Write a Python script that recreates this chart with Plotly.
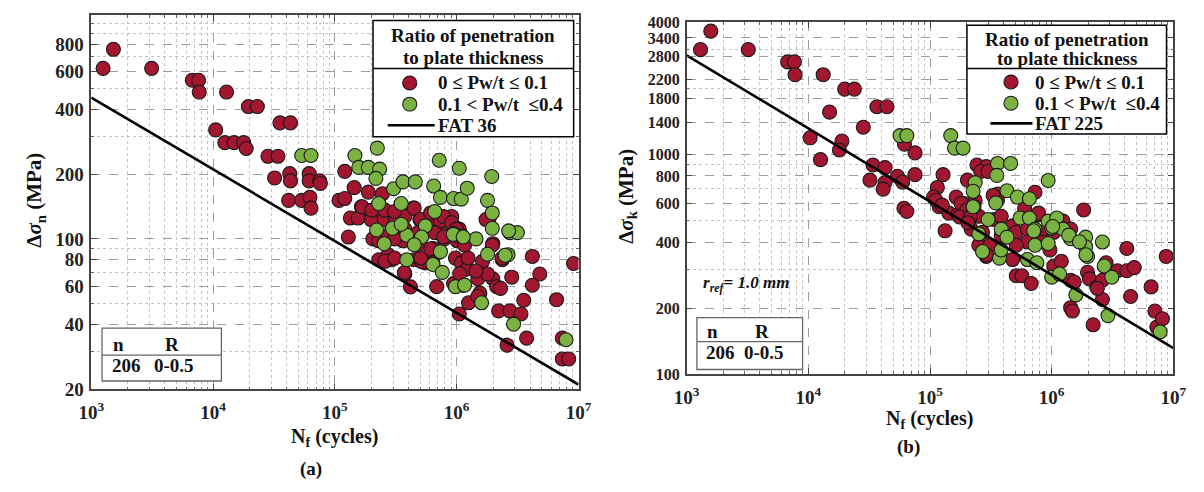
import math
import plotly.graph_objects as go

# ---------------- data ----------------
# panel (a): nominal stress range vs cycles
a_red_N = [1.25e3, 1.52e3, 3.13e3, 6.75e3, 7.6e3, 7.7e3, 1.29e4, 1.95e4, 2.31e4, 1.05e4,
           1.25e4, 1.49e4, 1.78e4, 1.87e4, 3.54e4, 4.32e4, 2.82e4, 3.41e4, 3.2e4, 4.26e4,
           4.32e4, 6.15e4, 6.15e4, 7.5e4, 7.6e4, 4.17e4, 5.34e4, 6.24e4, 6.37e4, 1.205e5,
           1.08e5, 1.205e5, 1.34e5, 1.29e5, 1.44e5, 1.88e5, 2.45e5, 1.65e5, 1.85e6, 1.98e6,
           3.37e5, 4.42e5, 2.73e5, 2.05e5, 1.72e5, 1.98e5, 1.55e5, 2.54e5, 2.93e5, 3.14e5,
           3.75e5, 4.98e5, 5.94e5, 7.35e5, 9.1e5, 9.42e5, 1.05e6, 7.62e5, 6.61e5, 4.81e5,
           3.75e5, 2.05e5, 2.29e5, 2.73e5, 3.62e5, 7.89e5, 1.01e6, 2.29e5, 2.93e5, 3.75e5,
           4.17e5, 5.53e5, 6.38e5, 6.85e5, 6.38e5, 9.77e5, 1.09e6, 1.21e6, 9.42e5, 1.12e6,
           1.25e6, 1.49e6, 1.55e6, 1.05e6, 1.98e6, 2.13e6, 2.29e6, 2.37e6, 2.83e6, 2.21e6,
           2.73e6, 3.37e6, 3.55e6, 4.18e6, 4.81e6, 4.18e6, 2.59e6, 3.75e6, 6.6e6, 7.36e6,
           7.36e6, 8.3e6, 9.1e6, 4.48e5, 5.15e5, 1.06e6, 1.49e6, 1.67e5, 2.01e5, 2.57e5,
           3.09e5, 4.48e5, 5.06e5, 6.1e5, 7.8e5, 9.08e5, 9.96e5, 1.16e6, 1.24e6, 1.63e6,
           1.79e6, 1.44e6, 1.96e6, 1.74e6, 2.36e6, 9.96e5, 2.73e5, 2.57e5, 3.09e5, 3.72e5,
           5.06e5, 6.1e5, 7.8e5, 4.75e5, 3.09e5]
a_red_S = [620, 760, 620, 546, 546, 481, 481, 412, 412, 321,
           280, 280, 280, 263, 346, 346, 242, 242, 192, 201,
           186, 201, 186, 186, 181, 151, 151, 156, 139, 206,
           151, 154, 125, 102, 173, 165, 162, 141, 125, 95,
           136, 139, 132, 132, 132, 123, 125, 123, 111, 123,
           127, 123, 119, 121, 127, 115, 111, 105, 107, 107,
           111, 100, 98, 102, 98, 100, 98, 80, 80, 68.7,
           59.9, 77.4, 77.4, 60, 90.3, 81.5, 77.4, 72.3, 62, 60.9,
           50.5, 65.3, 56, 44.8, 65.3, 60, 58.9, 80, 66.4, 46.3,
           46.3, 44.8, 51.9, 82.9, 68.7, 60.9, 32.1, 34.6, 52.2, 34.6,
           27.7, 27.7, 76.9, 80, 78.5, 69, 54, 141, 136, 136,
           134, 139, 123, 132, 127, 119, 104, 93.5, 81.5, 78.7,
           68.7, 71, 93.5, 123, 81.5, 111, 84.3, 78.7, 81.5, 69.8,
           81.5, 90, 102, 93.5, 100]
a_green_N = [5.34e4, 6.37e4, 1.46e5, 2.23e5, 1.57e5, 1.88e5, 2.33e5, 2.17e5, 7.19e5, 1.05e6,
             1.94e6, 3.03e5, 3.62e5, 4.57e5, 6.47e5, 7.35e5, 9.42e5, 1.09e6, 1.22e6, 1.79e6,
             1.96e6, 1.96e6, 2.73e6, 3.15e6, 2.29e5, 3.5e5, 6.61e5, 5.53e5, 2.2e5, 2.97e5,
             3.89e5, 5.15e5, 9.42e5, 1.11e6, 1.44e6, 2.54e5, 4.48e5, 3.89e5, 6.38e5, 7.35e5,
             7.62e5, 9.77e5, 1.6e6, 1.79e6, 2.64e6, 2.93e6, 7.9e6, 1.16e6, 3.5e5, 9.38e5,
             1.13e6, 2.5e6, 2.67e6]
a_green_S = [244, 244, 244, 264, 215, 215, 211, 191, 232, 213,
             195, 171, 184, 184, 176, 156, 154, 153, 172, 151,
             132, 112, 107, 107, 146, 146, 134, 115, 110, 112,
             104, 102, 106, 103, 100, 95, 94, 80, 76.1, 87.3,
             69.9, 60, 50.5, 84.9, 84.4, 40.2, 34, 61, 117, 105,
             102, 84, 109]

# panel (b): notch stress range vs cycles
b_red_N = [1.3e3, 1.58e3, 3.21e3, 6.76e3, 7.68e3, 7.78e3, 1.325e4, 1.99e4, 2.39e4, 1.495e4,
           3.66e4, 4.43e4, 2.83e4, 1.035e4, 1.89e4, 1.8e4, 1.26e4, 3.4e4, 4.27e4, 3.21e4,
           4.27e4, 4.12e4, 5.4e4, 5.96e4, 6.17e4, 7.53e4, 7.53e4, 6.1e4, 6.45e4, 1.28e5,
           1.15e5, 1.07e5, 1.19e5, 1.33e5, 1.43e5, 2.43e5, 2.9e5, 2.61e5, 3.0e5, 2.03e5,
           7.29e5, 1.83e6, 4.14e6, 1.64e5, 1.9e5, 1.7e5, 2.11e5, 2.35e5, 2.52e5, 2.18e5,
           2.7e5, 3.34e5, 3.59e5, 3.85e5, 4.77e5, 5.11e5, 6.32e5, 7.81e5, 8.09e5, 1.04e6,
           1.24e6, 1.43e6, 6.32e5, 5.11e5, 2.52e5, 2.9e5, 3.11e5, 4.77e5, 5.11e5, 5.69e5,
           6.79e5, 8.4e5, 9.68e5, 1.04e6, 1.2e6, 1.43e6, 1.53e6, 1.43e6, 1.48e6, 1.97e6,
           2.04e6, 2.35e6, 2.61e6, 2.61e6, 2.8e6, 3.47e6, 4.14e6, 4.77e6, 4.45e6, 2.19e6,
           6.56e6, 7.05e6, 7.31e6, 8.13e6, 8.73e6, 3.85e5, 3.61e5, 3.3e5, 5.99e5, 7.8e5,
           1.8e5, 2.0e5, 2.3e5, 1.75e5, 2.15e5, 2.05e5, 1.12e5, 1.26e5, 2.91e5, 2.37e6]
b_red_S = [3006, 3650, 3006, 2644, 2644, 2312, 2312, 1988, 1988, 1561,
           1652, 1652, 1333, 1193, 1153, 1050, 949, 897, 873, 766,
           746, 697, 797, 750, 1115, 1019, 811, 570, 551, 811,
           709, 641, 579, 450, 542, 897, 882, 838, 838, 766,
           674, 560, 374, 641, 599, 533, 542, 620, 524, 458,
           443, 507, 620, 524, 474, 443, 458, 533, 443, 443,
           498, 458, 400, 387, 387, 344, 387, 333, 281, 281,
           259, 400, 368, 311, 327, 268, 263, 201, 194, 291,
           272, 250, 219, 268, 322, 296, 296, 306, 226, 168,
           250, 194, 164, 179, 344, 429, 662, 652, 570, 542,
           600, 560, 580, 520, 520, 490, 620, 589, 350, 246]
b_green_N = [5.67e4, 6.45e4, 1.48e5, 1.59e5, 1.87e5, 3.59e5, 4.6e5, 3.54e5, 9.35e5, 2.35e5,
             2.26e5, 4.29e5, 5.23e5, 6.56e5, 3.47e5, 2.26e5, 3.0e5, 3.85e5, 5.5e5, 6.56e5,
             9.35e5, 1.1e6, 1.0e6, 1.24e6, 7.29e5, 4.29e5, 1.43e6, 1.9e6, 2.61e6, 2.52e5,
             7.29e5, 2.7e5, 3.72e5, 6.32e5, 7.55e5, 9.35e5, 1.0e6, 1.16e6, 1.58e6, 1.9e6,
             1.97e6, 2.7e6, 3.12e6, 2.9e6, 7.78e6, 1.38e6, 3.84e5, 1.69e6, 1.02e6, 7.12e5,
             1.91e6]
b_green_S = [1221, 1221, 1221, 1071, 1071, 912, 912, 805, 763, 746,
             681, 685, 641, 630, 603, 579, 507, 458, 515, 515,
             498, 515, 463, 458, 458, 421, 414, 421, 400, 436,
             387, 362, 338, 333, 322, 394, 277, 286, 230, 381,
             344, 311, 277, 185, 156, 430, 368, 401, 471, 450,
             350]

# design (FAT) curves, slope m = 3, reference 2e6 cycles
FAT_a = 36
FAT_b = 225
FAT_N = [1e3, 1e7]

x_ticks = [1e3, 1e4, 1e5, 1e6, 1e7]
x_ticktext = ["10<sup>3</sup>", "10<sup>4</sup>", "10<sup>5</sup>", "10<sup>6</sup>", "10<sup>7</sup>"]
a_yticks = [20, 40, 60, 80, 100, 200, 400, 600, 800]
a_yminor = [30, 50, 70, 90, 300, 500, 700, 900, 1000]
b_yticks = [100, 200, 400, 600, 800, 1000, 1400, 1800, 2200, 2800, 3400, 4000]
b_yminor = [300, 500, 700, 900, 2000, 3000]

legend_labels = ["0 \u2264 Pw/t \u2264 0.1", "0.1 < Pw/t  \u22640.4"]

# ---------------- styling ----------------
W, H = 1204, 492
SERIF = "Liberation Serif, Times New Roman, serif"
RED = "#A3162F"
GREEN = "#7BB342"
INK = "#111111"


def fx(p):
    return p / W


def fy(p):
    return 1 - p / H


x_minor = [k * 10 ** d for d in range(3, 7) for k in range(2, 10)]

fig = go.Figure()


def fat_curve(fat):
    return [fat * (2e6 / n) ** (1 / 3) for n in FAT_N]


def add_panel(xa, ya, rN, rS, gN, gS, fat):
    mk = dict(size=14, line=dict(color="#1a1a1a", width=1.1))
    fig.add_trace(go.Scatter(x=rN, y=rS, mode="markers", xaxis=xa, yaxis=ya,
                             marker=dict(color=RED, **mk), showlegend=False))
    fig.add_trace(go.Scatter(x=gN, y=gS, mode="markers", xaxis=xa, yaxis=ya,
                             marker=dict(color=GREEN, **mk), showlegend=False))
    fig.add_trace(go.Scatter(x=FAT_N, y=fat_curve(fat), mode="lines", xaxis=xa, yaxis=ya,
                             line=dict(color="black", width=2.6), showlegend=False))


add_panel("x", "y", a_red_N, a_red_S, a_green_N, a_green_S, FAT_a)
add_panel("x2", "y2", b_red_N, b_red_S, b_green_N, b_green_S, FAT_b)


def ax_common(minor_vals, fsize, standoff=0):
    return dict(type="log", showline=True, linecolor="#444", linewidth=1.6, mirror="ticks",
                ticks="inside", ticklen=6, tickcolor="#444", tickwidth=1,
                showgrid=True, gridcolor="#9c9c9c", griddash="dash", gridwidth=1,
                zeroline=False, ticklabelstandoff=standoff,
                tickfont=dict(family=SERIF, size=fsize, color="#222", weight="bold"),
                minor=dict(tickmode="array", tickvals=minor_vals, ticks="inside", ticklen=3,
                           tickcolor="#666", showgrid=True, gridcolor="#c4c4c4",
                           griddash="dot", gridwidth=1))


fig.update_layout(
    width=W, height=H, margin=dict(l=0, r=0, t=0, b=0),
    paper_bgcolor="white", plot_bgcolor="white", showlegend=False,
    xaxis=dict(domain=[fx(80), fx(578)], range=[3, 7], anchor="y",
               tickmode="array", tickvals=x_ticks, ticktext=x_ticktext,
               **ax_common(x_minor, 19, 5)),
    yaxis=dict(domain=[fy(396.7), fy(7)], range=[math.log10(20), math.log10(1100)], anchor="x",
               tickmode="array", tickvals=a_yticks, ticktext=[str(v) for v in a_yticks],
               **ax_common(a_yminor, 19, 2)),
    xaxis2=dict(domain=[fx(688.5), fx(1186)], range=[3, 7], anchor="y2",
                tickmode="array", tickvals=x_ticks, ticktext=x_ticktext,
                **ax_common(x_minor, 19, 5)),
    yaxis2=dict(domain=[fy(381), fy(15)], range=[2, math.log10(4000)], anchor="x2",
                tickmode="array", tickvals=b_yticks, ticktext=[str(v) for v in b_yticks],
                **ax_common(b_yminor, 16, 2)),
)

shapes = []
annots = []


def text(t, x, y, size=19, xanchor="center", angle=0, italic=False):
    annots.append(dict(text=t, x=fx(x), y=fy(y), xref="paper", yref="paper",
                       xanchor=xanchor, yanchor="middle", showarrow=False, textangle=angle,
                       font=dict(family=SERIF, size=size, color=INK, weight="bold",
                                 style="italic" if italic else "normal")))


def rect(x0, y0, x1, y1, color="black", width=1.5):
    shapes.append(dict(type="rect", xref="paper", yref="paper", x0=fx(x0), x1=fx(x1),
                       y0=fy(y1), y1=fy(y0), line=dict(color=color, width=width),
                       fillcolor="white", layer="above"))


def hline(x0, x1, y, color="black", width=1.5):
    shapes.append(dict(type="line", xref="paper", yref="paper", x0=fx(x0), x1=fx(x1),
                       y0=fy(y), y1=fy(y), line=dict(color=color, width=width), layer="above"))


def dot(cx, cy, color, r=7.2):
    shapes.append(dict(type="circle", xref="paper", yref="paper", x0=fx(cx - r), x1=fx(cx + r),
                       y0=fy(cy + r), y1=fy(cy - r), fillcolor=color,
                       line=dict(color="#1a1a1a", width=1.1), layer="above"))


def legend_box(x0, x1, y0, y1, ysep, yt1, yt2, ye, xm, xt, xl0, xl1, fat_label):
    rect(x0, y0, x1, y1)
    hline(x0, x1, ysep)
    xc = (x0 + x1) / 2
    text("Ratio of penetration", xc, yt1, 19)
    text("to plate thickness", xc, yt2, 19)
    dot(xm, ye[0], RED)
    dot(xm, ye[1], GREEN)
    text(legend_labels[0], xt, ye[0], 19, "left")
    text(legend_labels[1], xt, ye[1], 19, "left")
    hline(xl0, xl1, ye[2], "black", 2.6)
    text(fat_label, xl1 + 1, ye[2], 19, "left")


legend_box(368, 573, 13, 134, 63, 29, 51, [78, 100, 122], 405.5, 432, 383, 431, "FAT 36")
legend_box(975, 1179, 18, 131, 63, 33, 53, [77, 99, 120], 1020, 1043, 999, 1042, "FAT 225")


def table(x0, x1, y0, y1, ysep, xn, xr, yh, yv):
    rect(x0, y0, x1, y1, "#666", 1.3)
    hline(x0, x1, ysep, "#666", 1.3)
    text("n", xn, yh, 19, "left")
    text("R", xr, yh, 19, "left")
    text("206", xn - 1, yv, 19, "left")
    text("0-0.5", xr - 11, yv, 19, "left")


table(91, 213, 333, 388, 361, 100, 153, 350, 372)
table(699, 807, 322, 376, 347, 707, 756, 337, 358)

text("<i>r</i><sub><i>ref</i></sub><i>= 1.0 mm</i>", 703, 287, 17, "left", italic=True)

# axis titles and panel labels
text("\u0394<i>\u03c3</i><sub>n</sub> (MPa)", 23, 200, 21, angle=-90)
text("\u0394<i>\u03c3</i><sub>k</sub> (MPa)", 628, 196, 21, angle=-90)
text("N<sub>f</sub> (cycles)", 329, 447, 20)
text("N<sub>f</sub> (cycles)", 937, 428, 20)
text("(a)", 305, 479, 19)
text("(b)", 915, 457, 19)

fig.update_layout(shapes=shapes, annotations=annots)

fig.write_html("out.html", config={"displayModeBar": False},
               post_script="document.body.style.margin='0px';")
